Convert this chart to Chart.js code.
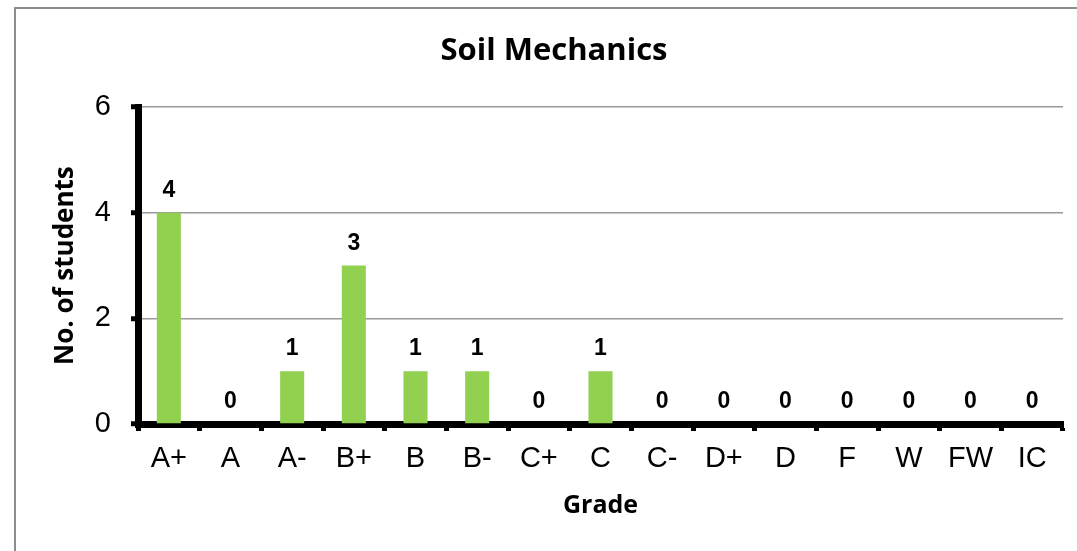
<!DOCTYPE html>
<html><head><meta charset="utf-8">
<script src="https://cdn.jsdelivr.net/npm/chart.js@4/dist/chart.umd.min.js"></script>
<style>html,body{margin:0;padding:0;background:#fff;}#wrap{width:1077px;height:551px;position:relative;}</style>
</head><body><div id="wrap"><canvas id="c" width="1077" height="551"></canvas></div>
<script>
const categories = ['A+','A','A-','B+','B','B-','C+','C','C-','D+','D','F','W','FW','IC'];
const students = [4,0,1,3,1,1,0,1,0,0,0,0,0,0,0];
const yTicks = [0,2,4,6];
const chartTitle = 'Soil Mechanics';
const xTitle = 'Grade';
const yTitle = 'No. of students';

const frame = {
  id:'frame',
  beforeDraw(chart){
    const ctx = chart.ctx;
    ctx.save();
    ctx.fillStyle='#fff';ctx.fillRect(0,0,chart.width,chart.height);
    ctx.strokeStyle='#8c8c8c';ctx.lineWidth=2;
    ctx.beginPath();ctx.moveTo(15,560);ctx.lineTo(15,8);ctx.lineTo(1100,8);ctx.stroke();
    ctx.restore();
  }
};
const labels = {
  id:'vlabels',
  afterDatasetsDraw(chart){
    const ctx=chart.ctx;const meta=chart.getDatasetMeta(0);
    ctx.save();ctx.font='bold 23px "Liberation Sans", Arial, sans-serif';ctx.fillStyle='#000';
    ctx.textAlign='center';ctx.textBaseline='alphabetic';
    meta.data.forEach((b,i)=>{ctx.fillText(String(students[i]),b.x,b.y-16);});
    ctx.restore();
  }
};

new Chart(document.getElementById('c'),{
  type:'bar',
  data:{labels:categories,datasets:[{data:students,backgroundColor:'#92d050',barPercentage:0.78,categoryPercentage:0.5}]},
  options:{
    responsive:false,animation:false,
    layout:{padding:{left:45,right:14,top:0,bottom:0}},
    plugins:{
      legend:{display:false},tooltip:{enabled:false},
      title:{display:true,text:chartTitle,color:'#000',font:{family:'"Open Sans", sans-serif',size:31,weight:'bold'},padding:{top:33,bottom:37}}
    },
    scales:{
      x:{
        grid:{offset:true,drawOnChartArea:false,drawTicks:true,tickLength:7,tickWidth:5,tickColor:'#000'},
        border:{display:true,color:'#000',width:7},
        ticks:{color:'#000',font:{family:'"Liberation Sans", Arial, sans-serif',size:29},padding:11,maxRotation:0,autoSkip:false},
        title:{display:true,text:xTitle,color:'#000',font:{family:'"Open Sans", sans-serif',size:25,weight:'bold'},padding:{top:0,bottom:30}},
        afterFit(s){s.height=127;}
      },
      y:{
        min:0,max:6,
        afterBuildTicks(s){s.ticks=yTicks.map(v=>({value:v}));},
        grid:{color:'#9a9a9a',lineWidth:1.5,drawTicks:true,tickLength:7,tickWidth:5,tickColor:'#000'},
        border:{display:true,color:'#000',width:7},
        ticks:{color:'#000',font:{family:'"Liberation Sans", Arial, sans-serif',size:29},padding:20},
        title:{display:true,text:yTitle,color:'#000',font:{family:'"Open Sans", sans-serif',size:26,weight:'bold'},padding:{top:5,bottom:0}},
        afterFit(s){s.width=93;}
      }
    }
  },
  plugins:[frame,labels]
});
</script></body></html>
